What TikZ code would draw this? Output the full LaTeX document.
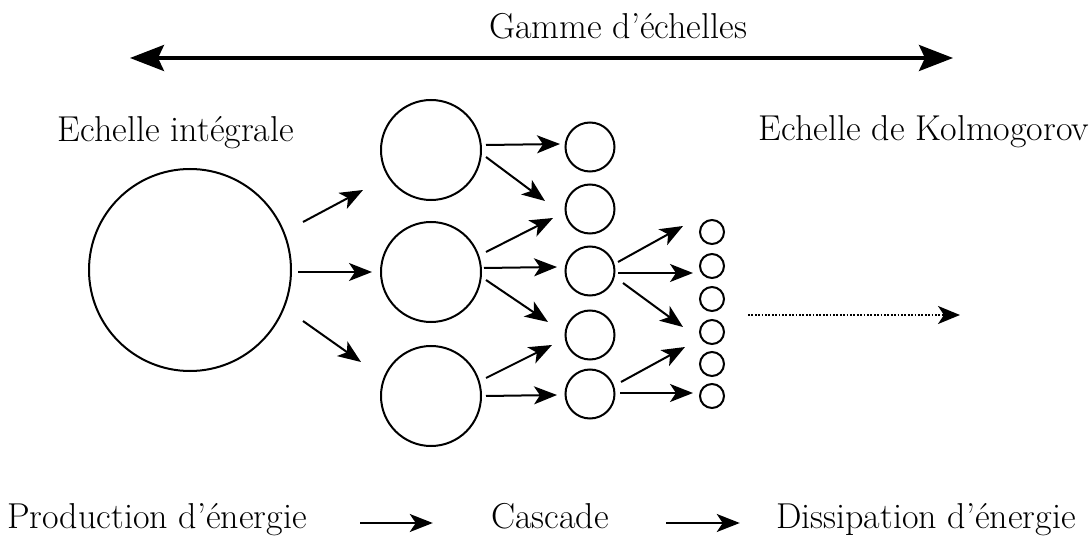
\documentclass[tikz,border=0pt]{standalone}
\usepackage{fontspec}
\usetikzlibrary{arrows.meta}
\begin{document}
\begin{tikzpicture}[x=0.5pt,y=-0.5pt,
  lbl/.style={inner sep=0pt, anchor=base, font=\fontsize{18}{22}\selectfont},
  eddy/.style={circle, draw, line width=1pt, inner sep=0pt},
  bigeddy/.style={eddy, minimum size=101pt},
  mededdy/.style={eddy, minimum size=50pt},
  smalleddy/.style={eddy, minimum size=24.5pt},
  tinyeddy/.style={eddy, minimum size=12pt},
  flow/.style={line width=1pt, -{Stealth[length=11.5pt, width=9pt, inset=3pt]}},
  scalerange/.style={line width=1.8pt, {Stealth[length=17pt, width=13pt, inset=3pt]}-{Stealth[length=17pt, width=13pt, inset=3pt]}},
  dissip/.style={line width=1.1pt, dash pattern=on 0.9pt off 0.8pt, -{Stealth[length=11pt, width=9pt, inset=3pt]}}
]
\useasboundingbox (0,0) rectangle (1089,540);

% labels
\node[lbl] (gamme) at (618,39) {Gamme d'échelles};
\node[lbl] (integ) at (176,142) {Echelle intégrale};
\node[lbl] (kolmo) at (924,141) {Echelle de Kolmogorov};
\node[lbl] (prod) at (157,528) {Production d'énergie};
\node[lbl] (casc) at (550,528) {Cascade};
\node[lbl] (diss) at (926,528) {Dissipation d'énergie};

% range of scales
\coordinate (rangeL) at (130,58);
\coordinate (rangeR) at (953,58);
\draw[scalerange] (rangeL) -- (rangeR);

% eddies
\node[bigeddy] (big) at (190,270) {};
\node[mededdy] (m1) at (431,150) {};
\node[mededdy] (m2) at (431,272) {};
\node[mededdy] (m3) at (431,396) {};
\node[smalleddy] (s1) at (590,147) {};
\node[smalleddy] (s2) at (590,209) {};
\node[smalleddy] (s3) at (590,271) {};
\node[smalleddy] (s4) at (590,335) {};
\node[smalleddy] (s5) at (590,394) {};
\node[tinyeddy] (t1) at (712,232) {};
\node[tinyeddy] (t2) at (712,266) {};
\node[tinyeddy] (t3) at (712,299) {};
\node[tinyeddy] (t4) at (712,332) {};
\node[tinyeddy] (t5) at (712,364) {};
\node[tinyeddy] (t6) at (712,396) {};

% cascade arrows
\draw[flow] ([shift={(113,-48)}]big.center) -- ([shift={(-68,40)}]m1.center);
\draw[flow] ([shift={(108,2)}]big.center) -- ([shift={(-59,0)}]m2.center);
\draw[flow] ([shift={(113,51)}]big.center) -- ([shift={(-70,-34)}]m3.center);

\draw[flow] ([shift={(55,-5)}]m1.center) -- ([shift={(-30,-3)}]s1.center);
\draw[flow] ([shift={(55,7)}]m1.center) -- ([shift={(-45,-8)}]s2.center);
\draw[flow] ([shift={(55,-20)}]m2.center) -- ([shift={(-37,9)}]s2.center);
\draw[flow] ([shift={(53,-4)}]m2.center) -- ([shift={(-33,-4)}]s3.center);
\draw[flow] ([shift={(55,8)}]m2.center) -- ([shift={(-42,-13)}]s4.center);
\draw[flow] ([shift={(55,-18)}]m3.center) -- ([shift={(-38,10)}]s4.center);
\draw[flow] ([shift={(55,0)}]m3.center) -- ([shift={(-33,1)}]s5.center);

\draw[flow] ([shift={(28,-9)}]s3.center) -- ([shift={(-29,-6)}]t1.center);
\draw[flow] ([shift={(28,2)}]s3.center) -- ([shift={(-19,7)}]t2.center);
\draw[flow] ([shift={(33,12)}]s3.center) -- ([shift={(-29,-5)}]t4.center);
\draw[flow] ([shift={(31,-12)}]s5.center) -- ([shift={(-27,-17)}]t5.center);
\draw[flow] ([shift={(30,-1)}]s5.center) -- ([shift={(-19,-3)}]t6.center);

% towards dissipation
\coordinate (dotA) at (748,315);
\coordinate (dotB) at (960,315);
\draw[dissip] (dotA) -- (dotB);

% energy path
\draw[flow, shorten <=26.5pt, shorten >=29pt] ([yshift=2.5pt]prod.base east) -- ([yshift=2.5pt]casc.base west);
\draw[flow, shorten <=28.5pt, shorten >=18pt] ([yshift=2.5pt]casc.base east) -- ([yshift=2.5pt]diss.base west);
\end{tikzpicture}
\end{document}
